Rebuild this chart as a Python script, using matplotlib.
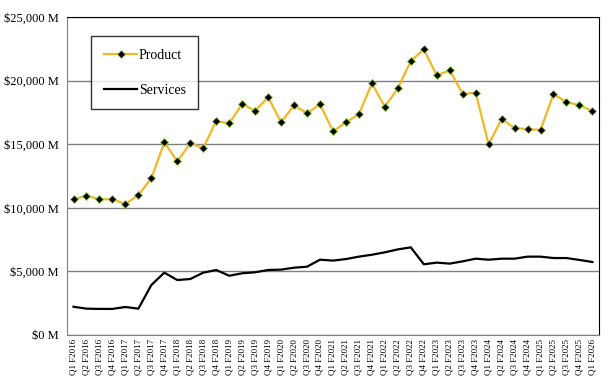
import numpy as np
import matplotlib.pyplot as plt
from matplotlib.ticker import FuncFormatter

# quarterly revenue, $M
quarters = []
for fy in range(2016, 2026):
    for q in range(1, 5):
        quarters.append("Q%d F%d" % (q, fy))
quarters.append("Q1 F2026")

product = [10670, 10950, 10670, 10670, 10300, 11000, 12320, 15150, 13650, 15070,
           14700, 16820, 16640, 18160, 17630, 18690, 16720, 18060, 17430, 18140,
           16010, 16720, 17350, 19790, 17950, 19390, 21540, 22460, 20410, 20810,
           18950, 19050, 14990, 16980, 16270, 16190, 16120, 18950, 18320, 18060,
           17610]
services = [2220, 2070, 2050, 2050, 2200, 2070, 3930, 4900, 4320, 4400,
            4900, 5110, 4660, 4850, 4930, 5110, 5140, 5290, 5370, 5920,
            5850, 5970, 6160, 6310, 6500, 6730, 6890, 5560, 5690, 5610,
            5790, 6000, 5920, 6000, 6000, 6160, 6160, 6050, 6050, 5900,
            5740]

plt.rcParams['font.family'] = ['Liberation Serif', 'DejaVu Serif']

fig = plt.figure(figsize=(6.11, 3.87), dpi=100)
ax = fig.add_axes([0.1097, 0.1344, 0.8705, 0.8216])

x = np.arange(len(quarters))
ax.plot(x, product, color='#F2B824', lw=1.6, marker='D', ms=4.2,
        mfc='black', mec='#8CC63F', mew=0.6, label='Product', zorder=3)
ax.plot(x, services, color='black', lw=1.6, label='Services', zorder=3)

ax.set_xlim(-0.5, len(quarters) - 0.5)
ax.set_ylim(0, 25000)
ax.set_yticks(np.arange(0, 25001, 5000))
ax.yaxis.set_major_formatter(FuncFormatter(lambda v, p: "${:,.0f} M".format(v)))
ax.set_xticks(x)
ax.set_xticklabels(quarters, rotation=90, fontsize=6.5)
ax.tick_params(axis='y', labelsize=9, length=0, pad=6)
ax.tick_params(axis='x', length=0, pad=3)
ax.grid(axis='y', color='#808080', lw=1)
ax.set_axisbelow(True)

for s in ['left', 'bottom']:
    ax.spines[s].set_color('#808080')
for s in ['top', 'right']:
    ax.spines[s].set_color('black')

leg = ax.legend(loc='upper left', bbox_to_anchor=(0.046, 0.94), fontsize=10,
                frameon=True, fancybox=False, edgecolor='black',
                labelspacing=1.6, handlelength=2.4, handletextpad=0.1,
                borderpad=0.9, borderaxespad=0)
leg.get_frame().set_linewidth(1.0)

fig.savefig('out.png', dpi=100)
